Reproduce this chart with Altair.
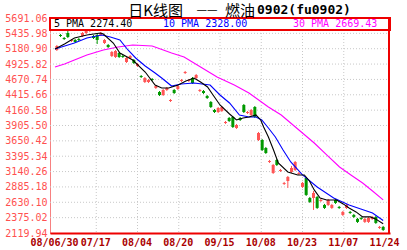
import altair as alt
import pandas as pd

# ---------------- data ----------------
date_labels = ["08/06/30", "07/17", "08/04", "08/20", "09/15", "10/08", "10/23", "11/07", "11/24"]
y_ticks = [2119.94, 2375.02, 2630.10, 2885.18, 3140.26, 3395.34, 3650.42, 3905.50,
           4160.58, 4415.66, 4670.74, 4925.82, 5180.90, 5435.98, 5691.06]

opens = [5160, 5409, 5359, 5442, 5309, 5326, 5342, 5392, 5442, 5475,
         5392, 5409, 5409, 5276, 5243, 5060, 5043, 5110, 5060, 4960,
         5027, 4993, 4894, 4728, 4628, 4628, 4678, 4528, 4462, 4412,
         4495, 4312, 4495, 4512, 4645, 4777, 4645, 4694, 4694, 4478,
         4478, 4395, 4296, 4163, 4130, 4146, 3947, 4030, 4047, 3864,
         4030, 4246, 4113, 4080, 4213, 3665, 3665, 3532, 3300, 3117,
         3333, 3150, 2935, 2984, 3134, 3167, 3101, 2885, 3034, 2702,
         2702, 2719, 2652, 2586, 2586, 2536, 2669, 2553, 2420, 2536,
         2470, 2420, 2354, 2370, 2304, 2304, 2354, 2387, 2204, 2221]
closes = [5226, 5392, 5342, 5375, 5326, 5292, 5326, 5442, 5492, 5525,
          5359, 5326, 5442, 5326, 5209, 5126, 5143, 5043, 5043, 5027,
          5060, 4944, 4927, 4711, 4694, 4661, 4661, 4561, 4412, 4495,
          4528, 4329, 4445, 4561, 4661, 4794, 4661, 4611, 4744, 4495,
          4445, 4362, 4213, 4130, 4196, 4213, 3964, 3980, 3881, 3914,
          3997, 4130, 4130, 4163, 4047, 3781, 3499, 3449, 3316, 3250,
          3250, 3167, 2951, 3051, 3200, 3300, 3117, 2951, 2752, 2636,
          2785, 2536, 2669, 2536, 2669, 2586, 2619, 2536, 2470, 2586,
          2453, 2387, 2304, 2354, 2354, 2370, 2387, 2287, 2221, 2171]
highs = [5243, 5425, 5375, 5475, 5342, 5342, 5359, 5458, 5508, 5541,
         5409, 5442, 5458, 5342, 5259, 5143, 5160, 5126, 5076, 5043,
         5076, 5010, 4944, 4744, 4711, 4678, 4694, 4578, 4478, 4512,
         4545, 4346, 4512, 4578, 4678, 4811, 4678, 4711, 4761, 4512,
         4495, 4412, 4312, 4180, 4213, 4229, 3980, 4047, 4063, 3931,
         4047, 4263, 4146, 4180, 4229, 3798, 3682, 3549, 3333, 3267,
         3350, 3184, 2968, 3067, 3233, 3316, 3134, 2968, 3051, 2719,
         2818, 2735, 2686, 2603, 2686, 2603, 2686, 2569, 2486, 2603,
         2486, 2437, 2370, 2387, 2370, 2387, 2403, 2403, 2237, 2237]
lows = [5143, 5375, 5326, 5359, 5292, 5276, 5309, 5375, 5425, 5458,
        5342, 5259, 5392, 5259, 5193, 5043, 5027, 5027, 5027, 4944,
        5010, 4927, 4877, 4694, 4611, 4611, 4645, 4512, 4395, 4395,
        4478, 4296, 4429, 4495, 4628, 4761, 4628, 4595, 4678, 4462,
        4429, 4346, 4196, 4113, 4113, 4130, 3931, 3964, 3864, 3848,
        3980, 4113, 4097, 4063, 4030, 3648, 3482, 3433, 3283, 3101,
        3233, 3134, 2918, 2868, 3117, 3150, 3084, 2868, 2735, 2619,
        2503, 2520, 2636, 2520, 2569, 2520, 2603, 2520, 2403, 2520,
        2437, 2370, 2287, 2337, 2287, 2287, 2337, 2271, 2188, 2154]

# moving-average lines, read point by point (position in trading-day units)
ma5_t = [0, 2.6, 5.3, 8.7, 12.4, 13.2, 15.9, 17.7, 21.2, 24.6, 27.3, 29.1, 31.0, 33.6,
         35.7, 37.9, 39.7, 41.6, 43.1, 45.0, 47.6, 49.5, 51.3, 52.9, 54.8, 56.1, 56.9,
         58.2, 59.6, 60.9, 63.5, 66.2, 68.0, 69.4, 70.7, 72.3, 74.1, 76.8, 78.6, 80.2,
         82.1, 83.9, 86.0, 87.4, 89.5]
ma5_v = [5176, 5259, 5359, 5409, 5442, 5425, 5276, 5110, 4993, 4794, 4578, 4528, 4528,
         4578, 4645, 4694, 4628, 4545, 4412, 4246, 4097, 3997, 4030, 4047, 4080, 3997,
         3881, 3715, 3499, 3283, 3134, 3084, 3084, 2984, 2835, 2702, 2669, 2669, 2603,
         2536, 2470, 2387, 2387, 2354, 2274.40]
ma10_t = [0, 5.3, 8.7, 12.7, 15.1, 17.7, 19.9, 22.0, 24.6, 27.3, 29.1, 31.8, 34.4, 37.9,
          42.3, 45.0, 47.6, 50.3, 52.9, 54.8, 56.4, 58.2, 60.1, 62.2, 64.3, 67.5, 71.5,
          76.0, 80.2, 83.4, 86.6, 89.5]
ma10_v = [5176, 5276, 5359, 5409, 5375, 5326, 5160, 5027, 4894, 4777, 4694, 4561, 4595,
          4611, 4578, 4412, 4279, 4080, 4047, 4047, 3997, 3864, 3715, 3499, 3300, 3084,
          2885, 2702, 2586, 2520, 2453, 2328.00]
ma30_t = [0, 2.6, 5.3, 8.7, 13.2, 17.2, 21.2, 26.5, 31.8, 35.2, 39.7, 44.2, 48.9, 52.9,
          58.2, 61.7, 66.2, 70.7, 74.1, 77.6, 80.7, 83.9, 86.6, 89.5]
ma30_v = [4877, 4927, 4993, 5076, 5160, 5209, 5243, 5226, 5110, 5043, 4877, 4711, 4578,
          4445, 4213, 4080, 3848, 3615, 3416, 3217, 3084, 2951, 2818, 2669.43]

title_parts = ["日K线图", "——", "燃油", "0902(fu0902)"]

# ---------------- styling ----------------
W, H = 340, 215
N = len(opens)
UP, DOWN = "#ff5555", "#009900"
RED = "#ee0000"
MONO = "DejaVu Sans Mono"
CJK = "Noto Sans CJK SC"

candles = pd.DataFrame({
    "t": [i + 0.5 for i in range(N)],
    "open": opens, "close": closes, "high": highs, "low": lows,
})
candles["dir"] = ["up" if c > o else "down" for o, c in zip(opens, closes)]

step = 90 / (len(date_labels) - 1)
x_vals = [i * step for i in range(len(date_labels))]
label_expr = "[" + ",".join(f"'{d}'" for d in date_labels) + f"][round(datum.value / {step})]"

xscale = alt.Scale(domain=[0, 90], nice=False, zero=False)
yscale = alt.Scale(domain=[y_ticks[0], y_ticks[-1]], nice=False, zero=False)

x_axis = alt.Axis(values=x_vals, labelExpr=label_expr, grid=False, ticks=False,
                  domainColor=RED, domainWidth=2, labelColor="#aa0000", labelFont=MONO,
                  labelFontSize=10, labelFontWeight="bold", labelPadding=4,
                  labelOverlap=False, labelFlush=False, labelOffset=-1, title=None)
y_axis = alt.Axis(values=y_ticks, format=".2f", grid=False, ticks=False,
                  domainColor=RED, domainDash=[1, 1], domainWidth=1,
                  labelColor="#ff5050", labelFont=MONO, labelFontSize=10,
                  labelPadding=3, labelOverlap=False, labelFlush=False,
                  labelBound=False, title=None)


def X(f):
    return alt.X(f, scale=xscale, axis=x_axis)


def Y(f):
    return alt.Y(f, scale=yscale, axis=y_axis)


# gridlines
hgrid = alt.Chart(pd.DataFrame({"v": y_ticks[1:-1]})).mark_rule(
    color="#c8c8c8", strokeDash=[1, 2], strokeWidth=1
).encode(y=Y("v:Q"))
vgrid = alt.Chart(pd.DataFrame({"t": x_vals[1:-1]})).mark_rule(
    color="#c8c8c8", strokeDash=[1, 2], strokeWidth=1
).encode(x=X("t:Q"))

color = alt.Color("dir:N", scale=alt.Scale(domain=["up", "down"], range=[UP, DOWN]), legend=None)
cbase = alt.Chart(candles)
wicks = cbase.mark_rule(strokeWidth=1).encode(
    x=X("t:Q"), y=Y("low:Q"), y2="high:Q", color=color)
bodies = cbase.mark_bar(size=3).encode(
    x=X("t:Q"), y=Y("open:Q"), y2="close:Q", color=color)


def ma_line(ts, vs, col):
    return alt.Chart(pd.DataFrame({"t": ts, "v": vs})).mark_line(
        color=col, strokeWidth=1.1
    ).encode(x=X("t:Q"), y=Y("v:Q"))


l30 = ma_line(ma30_t, ma30_v, "#ff00ff")
l10 = ma_line(ma10_t, ma10_v, "#0000ff")
l5 = ma_line(ma5_t, ma5_v, "#000000")

# legend box
box = alt.Chart(pd.DataFrame({"a": [0]})).mark_rect(
    fill="white", stroke=RED, strokeWidth=2
).encode(x=alt.value(0), x2=alt.value(W), y=alt.value(0), y2=alt.value(12))

leg_df = pd.DataFrame({
    "txt": [f"5 PMA {ma5_v[-1]:.2f}", f"10 PMA {ma10_v[-1]:.2f}", f"30 PMA {ma30_v[-1]:.2f}"],
    "px": [4, 113, 243],
    "col": ["#000000", "#0000ff", "#ff00ff"],
})
leg = alt.Chart(leg_df).mark_text(
    font=MONO, fontSize=10, align="left", baseline="middle"
).encode(x=alt.X("px:Q", scale=None), y=alt.value(6), text="txt:N",
         color=alt.Color("col:N", scale=None))

right_border = alt.Chart(pd.DataFrame({"a": [0]})).mark_rule(
    color=RED, strokeWidth=2
).encode(x=alt.value(W - 1), y=alt.value(0), y2=alt.value(H))

t1 = alt.Chart(pd.DataFrame({"s": [title_parts[0]]})).mark_text(
    font=CJK, fontSize=15, align="right", baseline="middle", color="black"
).encode(x=alt.value(133), y=alt.value(-7), text="s:N")
t2 = alt.Chart(pd.DataFrame({"s": [title_parts[1]]})).mark_text(
    font="DejaVu Sans", fontSize=10.5, align="center", baseline="middle", color="black"
).encode(x=alt.value(157), y=alt.value(-8), text="s:N")
t3 = alt.Chart(pd.DataFrame({"s": [title_parts[2]]})).mark_text(
    font=CJK, fontSize=15, align="left", baseline="middle", color="black"
).encode(x=alt.value(175), y=alt.value(-7), text="s:N")
t4 = alt.Chart(pd.DataFrame({"s": [title_parts[3]]})).mark_text(
    font=MONO, fontSize=13, fontWeight="bold", align="left", baseline="middle", color="black"
).encode(x=alt.value(207), y=alt.value(-8), text="s:N")

chart = alt.layer(
    hgrid, vgrid, wicks, bodies, l30, l10, l5, box, leg, right_border, t1, t2, t3, t4
).properties(
    width=W, height=H,
    padding={"left": 50, "top": 18, "right": 17, "bottom": 17},
    autosize=alt.AutoSizeParams(type="none"),
    background="white",
).configure_view(stroke=None)

chart.save("out.html", embed_options={"renderer": "svg", "actions": False})
